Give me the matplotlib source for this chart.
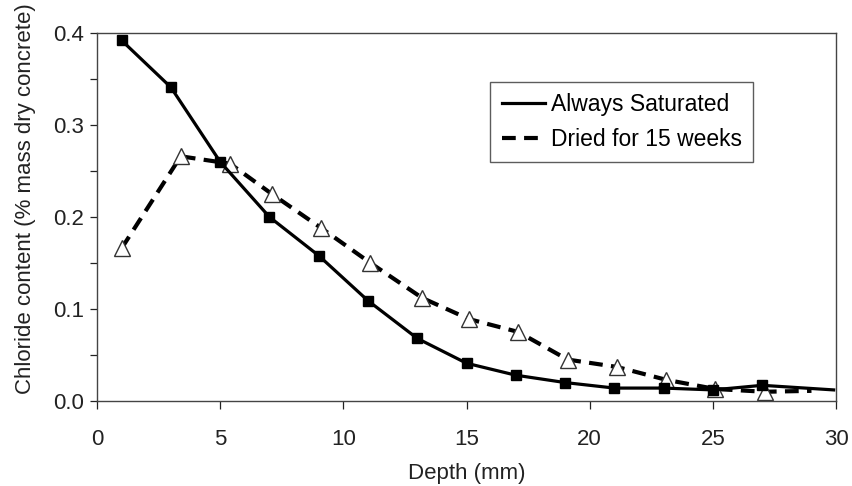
import matplotlib
matplotlib.use("Agg")
import matplotlib.pyplot as plt
from matplotlib.lines import Line2D

plt.rcParams['font.family'] = ['Liberation Sans', 'DejaVu Sans']

sat_depth = [1, 3, 5, 7, 9, 11, 13, 15, 17, 19, 21, 23, 25, 27, 29.9]
sat_cl = [0.392, 0.341, 0.260, 0.200, 0.158, 0.109, 0.068, 0.041, 0.028, 0.020, 0.014, 0.014, 0.012, 0.017, 0.012]

dry_depth = [1, 3.4, 5.4, 7.1, 9.1, 11.1, 13.2, 15.1, 17.1, 19.1, 21.1, 23.1, 25.1, 27.1, 29.0]
dry_cl = [0.166, 0.266, 0.258, 0.225, 0.188, 0.150, 0.112, 0.089, 0.075, 0.045, 0.037, 0.023, 0.013, 0.010, 0.011]

x_ticks = [0, 5, 10, 15, 20, 25, 30]
y_ticks = [0.0, 0.1, 0.2, 0.3, 0.4]

FS = 16
TXT = '#222222'

fig = plt.figure(figsize=(8.53, 4.86), dpi=100)
ax = fig.add_axes([0.1137, 0.175, 0.8665, 0.757])

ax.plot(dry_depth, dry_cl, color='black', lw=3, linestyle=(0, (3.3, 2.0)),
        marker='^', markersize=11, markerfacecolor='white', markeredgecolor='#333333',
        markeredgewidth=1.0, markevery=list(range(len(dry_depth) - 1)), zorder=2)
ax.plot(sat_depth, sat_cl, color='black', lw=2.3, marker='s', markersize=7,
        markevery=list(range(len(sat_depth) - 1)), zorder=3)

ax.set_xlim(0, 30)
ax.set_ylim(0, 0.4)
ax.set_xticks(x_ticks)
ax.set_yticks(y_ticks)
ax.set_yticklabels([f"{v:.1f}" for v in y_ticks])
ax.set_yticks([0.05, 0.15, 0.25, 0.35], minor=True)
ax.tick_params(axis='both', which='both', direction='out', width=0.9,
               labelsize=FS, colors=TXT)
ax.tick_params(axis='y', which='both', length=5, pad=4)
ax.tick_params(axis='x', which='both', length=5.5, pad=15)
for s in ax.spines.values():
    s.set_color('#444444')
    s.set_linewidth(1.0)

ax.set_xlabel('Depth (mm)', fontsize=FS, color=TXT, labelpad=9)
ax.set_ylabel('Chloride content (% mass dry concrete)', fontsize=FS, color=TXT)
ax.yaxis.set_label_coords(-0.083, 0.549)

handles = [Line2D([], [], color='black', lw=2.3),
           Line2D([], [], color='black', lw=3, linestyle=(0, (3.3, 2.0)))]
leg = ax.legend(handles, ['Always Saturated', 'Dried for 15 weeks'],
                loc='upper left', bbox_to_anchor=(0.532, 0.867), fontsize=16.5,
                frameon=True, fancybox=False, edgecolor='#333333',
                handlelength=1.9, handletextpad=0.25, borderpad=0.5,
                labelspacing=0.5, borderaxespad=0)
leg.get_frame().set_linewidth(1.0)

fig.savefig('out.png', dpi=100)
